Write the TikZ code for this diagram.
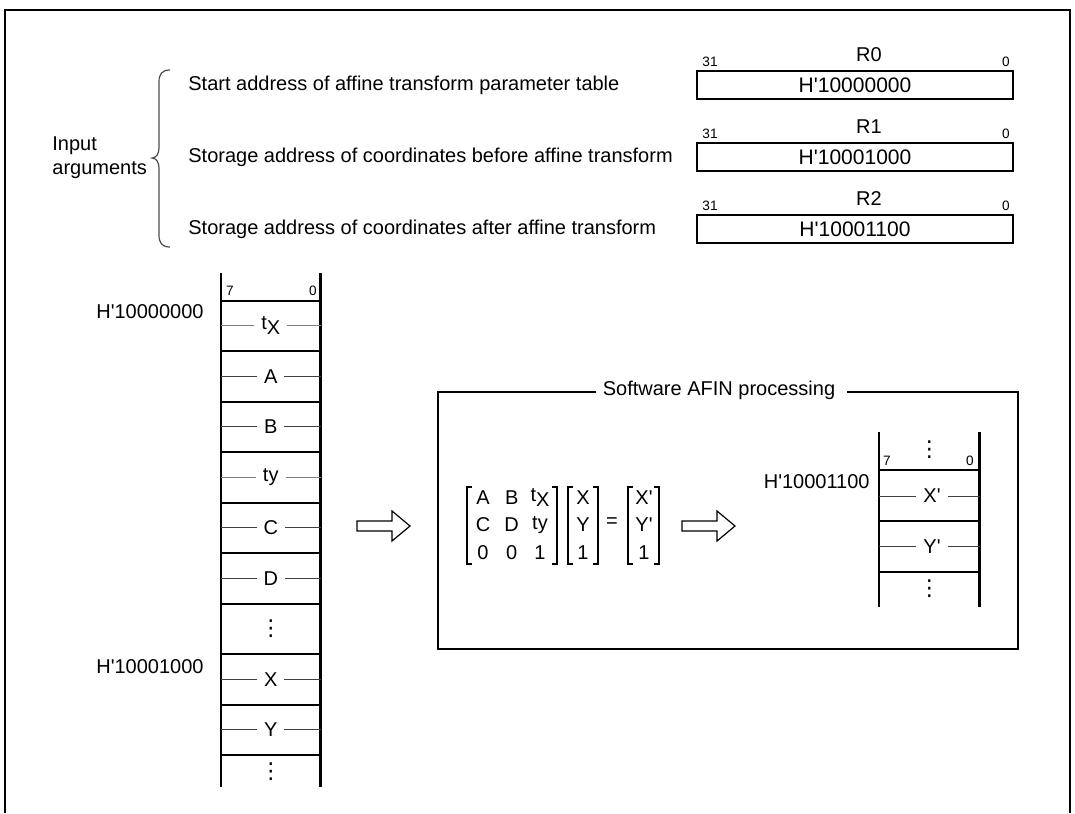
\documentclass[tikz,border=0pt]{standalone}
\usepackage{fontspec}
\setmainfont{Liberation Sans}
\newfontfamily\dejavu{DejaVu Sans}
\newcommand{\qt}{\textquotesingle}
\newcommand{\vdd}{{\dejavu\fontsize{11}{12}\selectfont ⋮}}
\begin{document}
\begin{tikzpicture}[x=0.5pt,y=-0.5pt]
\tikzset{
  txt/.style={font=\fontsize{10}{12}\selectfont, inner sep=0pt},
  small/.style={font=\fontsize{6.8}{7}\selectfont, inner sep=0pt},
  frameline/.style={line width=1pt},
  regbox/.style={draw, line width=0.8pt, minimum width=158pt, minimum height=14pt, inner sep=0pt, font=\fontsize{10.5}{12}\selectfont},
  colline/.style={line width=1.3pt},
  rowline/.style={line width=1pt},
  midline/.style={line width=0.5pt, black!75},
  lightmid/.style={line width=0.5pt, black!50},
  cell/.style={txt, fill=white, inner xsep=3.5pt, inner ysep=1pt},
  hollow/.style={draw, line width=0.6pt, fill=white, line join=miter},
  brack/.style={line width=0.8pt}
}
\useasboundingbox (0,0) rectangle (1075,813);
% outer frame (open at bottom)
\draw[frameline] (5,813) -- (5,10) -- (1070,10) -- (1070,813);

% input arguments
\node[txt, anchor=west, align=left] (inarg) at (52,158) {Input\\arguments};
\draw[line width=0.6pt, black!70] (170,70) .. controls (162,70) and (159,74) .. (159,82) -- (159,148) .. controls (159,154) and (156,158) .. (152,158) .. controls (156,158) and (159,162) .. (159,168) -- (159,235) .. controls (159,243) and (162,247) .. (170,247);

\node[txt, anchor=west] (t0) at (188,85) {Start address of affine transform parameter table};
\node[txt, anchor=west] (t1) at (188,157) {Storage address of coordinates before affine transform};
\node[txt, anchor=west] (t2) at (188,229) {Storage address of coordinates after affine transform};

% registers
\node[regbox] (r0) at (855,85) {H\qt 10000000};
\node[txt] (r0n) at (869,55) {R0};
\node[small] (r0a) at (710,62) {31};
\node[small] (r0b) at (1006,62) {0};
\node[regbox] (r1) at (855,157) {H\qt 10001000};
\node[txt] (r1n) at (869,127) {R1};
\node[small] (r1a) at (710,134) {31};
\node[small] (r1b) at (1006,134) {0};
\node[regbox] (r2) at (855,229) {H\qt 10001100};
\node[txt] (r2n) at (869,199) {R2};
\node[small] (r2a) at (710,206) {31};
\node[small] (r2b) at (1006,206) {0};

% left memory column
\draw[colline] (221,273) -- (221,787);
\draw[colline] (320.5,273) -- (320.5,787);
\node[small] (m7) at (230,291) {7};
\node[small] (m0) at (313,291) {0};
\foreach \y in {300.7,351.2,401.7,452.2,502.7,553.2,603.7,654.2,704.7,755.2}
  \draw[rowline] (221,\y) -- (320.5,\y);
\foreach \y/\t/\n/\s in {325.9/{t\raisebox{-0.45ex}{X}}/ctx/lightmid, 376.4/A/ca/midline, 426.9/B/cb/midline, 477.4/ty/cty/lightmid, 527.9/C/cc/midline, 578.4/D/cd/midline, 679.4/X/cx/midline, 729.9/Y/cy/midline}{
  \draw[\s] (221,\y) -- (320.5,\y);
  \node[cell] (\n) at (270.75,\y) {\t};
}
\node[inner sep=0pt] (cdots1) at (270.75,629) {\vdd};
\node[inner sep=0pt] (cdots2) at (270.75,772) {\vdd};
\node[txt, anchor=east] (addr0) at (204,312) {H\qt 10000000};
\node[txt, anchor=east] (addr1) at (204,667) {H\qt 10001000};

% arrow 1
\draw[hollow] (357,521) -- (392,521) -- (392,511) -- (410,526) -- (392,541) -- (392,531) -- (357,531) -- cycle;

% software box with title gap
\draw[frameline] (596,392) -- (438,392) -- (438,649) -- (1018,649) -- (1018,392) -- (847,392);
\node[txt] (title) at (719,390) {Software AFIN processing};

% matrix 1
\draw[brack] (472,487) -- (467,487) -- (467,564) -- (472,564);
\draw[brack] (552,487) -- (557,487) -- (557,564) -- (552,564);
\node[txt] (ma) at (483,497.5) {A};
\node[txt] (mb) at (511.7,497.5) {B};
\node[txt] (mtx) at (540,497.5) {t\raisebox{-0.45ex}{X}};
\node[txt] (mc) at (483,525) {C};
\node[txt] (md) at (511.7,525) {D};
\node[txt] (mty) at (540,525) {ty};
\node[txt] (m00) at (483,552.5) {0};
\node[txt] (m01) at (511.7,552.5) {0};
\node[txt] (m1) at (540,552.5) {1};
% matrix 2
\draw[brack] (573,487) -- (568,487) -- (568,564) -- (573,564);
\draw[brack] (593,487) -- (598,487) -- (598,564) -- (593,564);
\node[txt] (vx) at (583,497.5) {X};
\node[txt] (vy) at (583,525) {Y};
\node[txt] (v1) at (583,552.5) {1};
\node[txt] (eq) at (612,523) {=};
% matrix 3
\draw[brack] (633,487) -- (628,487) -- (628,564) -- (633,564);
\draw[brack] (654,487) -- (659,487) -- (659,564) -- (654,564);
\node[txt] (wx) at (644,497.5) {X\qt};
\node[txt] (wy) at (644,525) {Y\qt};
\node[txt] (w1) at (644,552.5) {1};

% arrow 2
\draw[hollow] (682,521) -- (717,521) -- (717,511) -- (735,526) -- (717,541) -- (717,531) -- (682,531) -- cycle;

% right memory column
\draw[colline] (879,432) -- (879,607);
\draw[colline] (979.5,432) -- (979.5,607);
\node[inner sep=0pt] (rdots1) at (929.25,450) {\vdd};
\node[small] (n7) at (887,461) {7};
\node[small] (n0) at (970,461) {0};
\foreach \y in {470,521,572}
  \draw[rowline] (879,\y) -- (979.5,\y);
\draw[midline] (879,496) -- (979.5,496);
\node[cell] (ox) at (932,496) {X\qt};
\draw[midline] (879,546.5) -- (979.5,546.5);
\node[cell] (oy) at (932,546.5) {Y\qt};
\node[inner sep=0pt] (rdots2) at (929.25,589) {\vdd};
\node[txt, anchor=east] (addr2) at (870,482) {H\qt 10001100};
\end{tikzpicture}
\end{document}
